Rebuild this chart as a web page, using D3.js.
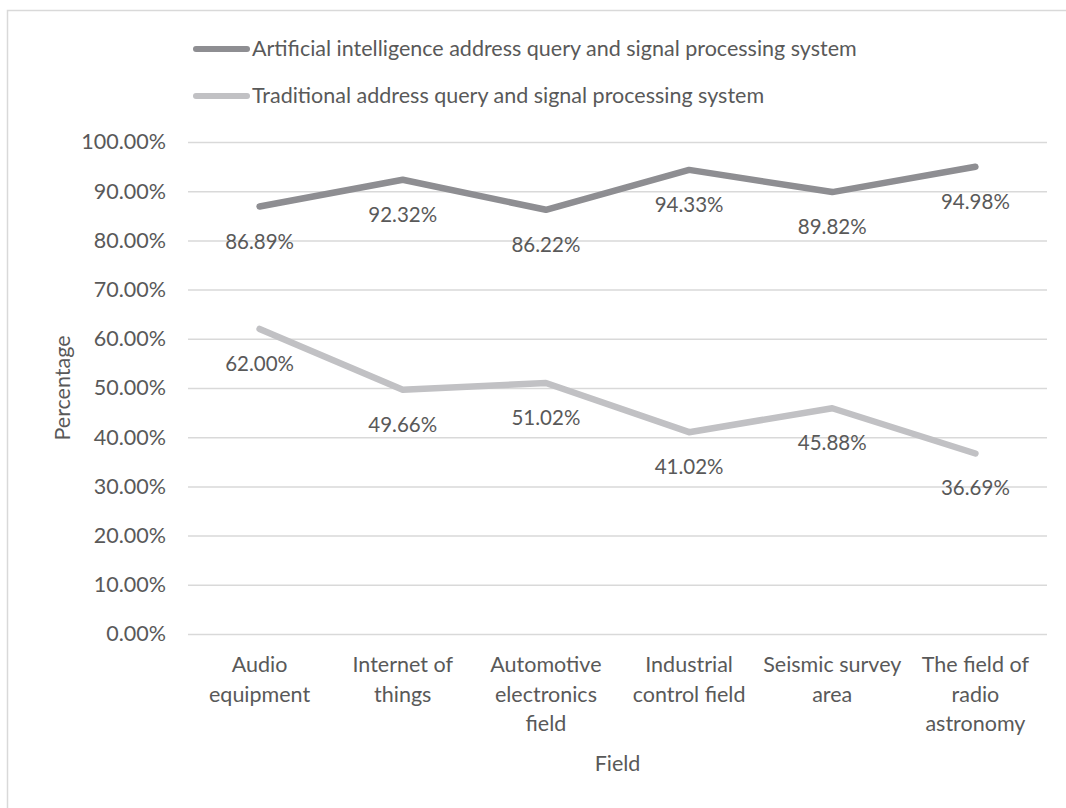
<!DOCTYPE html>
<html>
<head>
<meta charset="utf-8">
<script src="https://cdn.jsdelivr.net/npm/d3@7/dist/d3.min.js"></script>
<style>
  html, body { margin: 0; padding: 0; background: #fff; }
  text { font-family: Lato, "Open Sans", sans-serif; fill: #595959; }
</style>
</head>
<body>
<svg id="chart" width="1066" height="808"></svg>
<script>
const categories = [
  ["Audio", "equipment"],
  ["Internet of", "things"],
  ["Automotive", "electronics", "field"],
  ["Industrial", "control field"],
  ["Seismic survey", "area"],
  ["The field of", "radio", "astronomy"]
];
const seriesNames = [
  "Artificial intelligence address query and signal processing system",
  "Traditional address query and signal processing system"
];
const aiValues = [86.89, 92.32, 86.22, 94.33, 89.82, 94.98];
const tradValues = [62.00, 49.66, 51.02, 41.02, 45.88, 36.69];
const yTicks = [0, 10, 20, 30, 40, 50, 60, 70, 80, 90, 100];
const colors = ["#8e8e92", "#c1c1c4"];

(function () {
const svg = d3.select("#chart");
const W = 1066, H = 808;
const fs = 21.5, fsLabel = 20.5;

// chart border
svg.append("rect").attr("x", 7.5).attr("y", 10.5).attr("width", W + 10).attr("height", H + 10)
  .attr("fill", "#fff").attr("stroke", "#d9d9d9").attr("stroke-width", 1.5);

const mLeft = 188, mRight = 1047, mTop = 142, mBottom = 634;
const x = d3.scaleBand().domain(d3.range(categories.length)).range([mLeft, mRight]);
const y = d3.scaleLinear().domain([0, 100]).range([mBottom, mTop]);

// gridlines
const yAxis = d3.axisLeft(y).tickValues(yTicks).tickSize(-(mRight - mLeft))
  .tickFormat(d => d.toFixed(2) + "%").tickPadding(22);
const gy = svg.append("g").attr("transform", `translate(${mLeft},0)`).call(yAxis);
gy.select(".domain").remove();
gy.selectAll(".tick line").attr("stroke", "#d9d9d9").attr("stroke-width", 1.5);
gy.selectAll(".tick text").attr("font-size", fs).attr("fill", "#595959")
  .style("font-family", "Lato, 'Open Sans', sans-serif");

// x labels
const xg = svg.append("g");
categories.forEach((lines, i) => {
  const cx = x(i) + x.bandwidth() / 2;
  const t = xg.append("text").attr("text-anchor", "middle").attr("font-size", fs)
    .attr("x", cx).attr("y", 672);
  lines.forEach((ln, j) => {
    t.append("tspan").attr("x", cx).attr("dy", j === 0 ? 0 : 29.5).text(ln);
  });
});

// axis titles
svg.append("text").attr("text-anchor", "middle").attr("font-size", fs)
  .attr("x", (mLeft + mRight) / 2).attr("y", 771).text("Field");
svg.append("text").attr("text-anchor", "middle").attr("font-size", fs)
  .attr("transform", `translate(70,${(mTop + mBottom) / 2}) rotate(-90)`).text("Percentage");

// lines
const line = d3.line().x((d, i) => x(i) + x.bandwidth() / 2).y(d => y(d));
[aiValues, tradValues].forEach((vals, s) => {
  svg.append("path").datum(vals).attr("d", line).attr("fill", "none")
    .attr("stroke", colors[s]).attr("stroke-width", 6.5)
    .attr("stroke-linejoin", "round").attr("stroke-linecap", "round");
});

// data labels (below points)
[aiValues, tradValues].forEach((vals, s) => {
  svg.append("g").selectAll("text").data(vals).join("text")
    .attr("text-anchor", "middle").attr("font-size", fsLabel)
    .attr("x", (d, i) => x(i) + x.bandwidth() / 2)
    .attr("y", d => y(d) + 42)
    .text(d => d.toFixed(2) + "%");
});

// legend
seriesNames.forEach((name, s) => {
  const ly = 49 + s * 47;
  svg.append("line").attr("x1", 196).attr("x2", 247).attr("y1", ly).attr("y2", ly)
    .attr("stroke", colors[s]).attr("stroke-width", 6).attr("stroke-linecap", "round");
  svg.append("text").attr("x", 252).attr("y", ly + 7).attr("font-size", fs).text(name);
});
})();
</script>
</body>
</html>
